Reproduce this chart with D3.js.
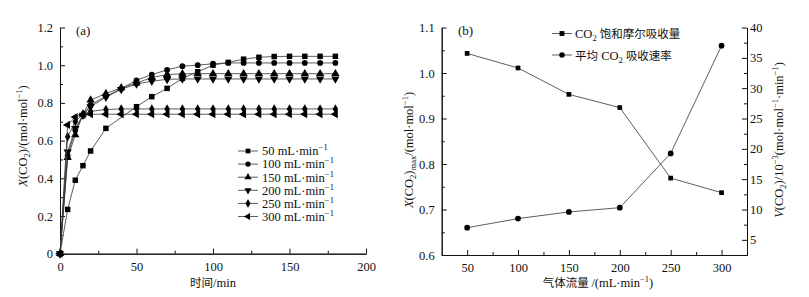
<!DOCTYPE html>
<html>
<head>
<meta charset="utf-8">
<script src="https://cdn.jsdelivr.net/npm/d3@7"></script>
<style>
  body { margin: 0; background: #fff; }
  text { font-family: "Liberation Serif", "Times New Roman", serif; fill: #111; }
  .cn { font-family: "Noto Sans CJK SC", sans-serif; }
</style>
</head>
<body>
<div id="chart"></div>
<script>
// panel (a): time course, X(CO2) for each flow rate
var times = [0, 5, 10, 15, 20, 30, 40, 50, 60, 70, 80, 90, 100, 110, 120, 130, 140, 150, 160, 170, 180];
var flowNames = ["50", "100", "150", "200", "250", "300"];
var x50  = [0, 0.235, 0.39, 0.467, 0.545, 0.665, null, 0.78, 0.833, 0.877, 0.93, 0.965, 1.0, 1.015, 1.032, 1.042, 1.046, 1.047, 1.047, 1.047, 1.047];
var x100 = [0, 0.52, 0.655, 0.735, 0.79, 0.835, 0.875, 0.92, 0.95, 0.975, 0.995, 1.0, 1.008, 1.012, 1.012, 1.012, 1.012, 1.012, 1.012, 1.012, 1.012];
var x150 = [0, 0.51, 0.63, 0.74, 0.815, 0.85, 0.88, 0.905, 0.935, 0.95, 0.955, 0.955, 0.955, 0.955, 0.955, 0.955, 0.955, 0.955, 0.955, 0.955, 0.955];
var x200 = [0, 0.54, 0.665, 0.735, 0.78, 0.83, 0.872, 0.9, 0.915, 0.925, 0.927, 0.927, 0.927, 0.927, 0.927, 0.927, 0.927, 0.927, 0.927, 0.927, 0.927];
var x250 = [0, 0.62, 0.70, 0.74, 0.755, 0.765, 0.768, 0.768, 0.768, 0.768, 0.768, 0.768, 0.768, 0.768, 0.768, 0.768, 0.768, 0.768, 0.768, 0.768, 0.768];
var x300 = [0, 0.683, 0.725, 0.737, 0.74, 0.74, 0.74, 0.74, 0.74, 0.74, 0.74, 0.74, 0.74, 0.74, 0.74, 0.74, 0.74, 0.74, 0.74, 0.74, 0.74];
var seriesA = [x50, x100, x150, x200, x250, x300];

// panel (b): flow rate vs saturation and mean rate
var flows = [50, 100, 150, 200, 250, 300];
var xmax = [1.043, 1.011, 0.953, 0.924, 0.769, 0.737];
var rate = [7.0, 8.5, 9.6, 10.3, 19.25, 37.0];

var xTicksA = [0, 50, 100, 150, 200];
var yTicksA = [0, 0.2, 0.4, 0.6, 0.8, 1.0, 1.2];
var xTicksB = [50, 100, 150, 200, 250, 300];
var yTicksB = [0.6, 0.7, 0.8, 0.9, 1.0, 1.1];
var rTicksB = [5, 10, 15, 20, 25, 30, 35, 40];

var W = 809, H = 297;
var svg = d3.select("#chart").append("svg")
  .attr("width", W).attr("height", H);

// symbols: square, circle, up, down, diamond, left
var shapes = [
  {t: d3.symbolSquare, s: 30, r: 0},
  {t: d3.symbolCircle, s: 26, r: 0},
  {t: d3.symbolTriangle, s: 30, r: 0},
  {t: d3.symbolTriangle, s: 30, r: 180},
  {t: d3.symbolDiamond, s: 26, r: 0},
  {t: d3.symbolTriangle, s: 30, r: -90}
];

function drawMarker(g, sh, cx, cy, size) {
  g.append("path")
    .attr("d", d3.symbol().type(sh.t).size(size || sh.s)())
    .attr("transform", "translate(" + cx + "," + cy + ") rotate(" + sh.r + ")")
    .attr("fill", "#000");
}

function minorOf(arr) {
  var m = [];
  for (var i = 0; i < arr.length - 1; i++) m.push((arr[i] + arr[i + 1]) / 2);
  return m;
}

function styleAxis(g) {
  g.selectAll("path, line").attr("stroke", "#111").attr("stroke-width", 1);
  g.selectAll("text").attr("font-size", 12.5).attr("fill", "#111")
    .style("font-family", "'Liberation Serif', serif");
}

// ---------- panel (a) ----------
var xa = d3.scaleLinear().domain([0, 200]).range([60, 366]);
var ya = d3.scaleLinear().domain([0, 1.2]).range([253.7, 27.5]);

var ga = svg.append("g");

ga.append("g").attr("transform", "translate(0,253.7)")
  .call(d3.axisBottom(xa).tickValues(xTicksA).tickSizeInner(-5).tickSizeOuter(0).tickPadding(8).tickFormat(d3.format("d")))
  .call(styleAxis);
ga.append("g").attr("transform", "translate(0,253.7)")
  .call(d3.axisBottom(xa).tickValues(minorOf(xTicksA)).tickSizeInner(-3).tickSizeOuter(0).tickFormat(""))
  .call(styleAxis);
ga.append("g").attr("transform", "translate(60,0)")
  .call(d3.axisLeft(ya).tickValues(yTicksA).tickSizeInner(-5).tickSizeOuter(0).tickPadding(7)
    .tickFormat(function(d) { return d === 0 ? "0" : d3.format(".1f")(d); }))
  .call(styleAxis);
ga.append("g").attr("transform", "translate(60,0)")
  .call(d3.axisLeft(ya).tickValues(minorOf(yTicksA)).tickSizeInner(-3).tickSizeOuter(0).tickFormat(""))
  .call(styleAxis);

var lineA = d3.line()
  .x(function(d) { return xa(d[0]); })
  .y(function(d) { return ya(d[1]); });

seriesA.forEach(function(vals, i) {
  var pts = times.map(function(t, j) { return [t, vals[j]]; }).filter(function(p) { return p[1] !== null; });
  ga.append("path").datum(pts)
    .attr("d", lineA).attr("fill", "none")
    .attr("stroke", "#333").attr("stroke-width", 0.8);
  pts.forEach(function(p) { drawMarker(ga, shapes[i], xa(p[0]), ya(p[1])); });
});

ga.append("text").attr("x", 76).attr("y", 35).attr("font-size", 13).text("(a)");

// legend (a)
flowNames.forEach(function(n, i) {
  var yy = 151 + i * 13.1;
  ga.append("line").attr("x1", 238).attr("x2", 258).attr("y1", yy).attr("y2", yy)
    .attr("stroke", "#333").attr("stroke-width", 0.8);
  drawMarker(ga, shapes[i], 248, yy, 22);
  var t = ga.append("text").attr("x", 262).attr("y", yy + 4.3).attr("font-size", 12.5);
  t.append("tspan").text(n + " mL\u00b7min");
  t.append("tspan").attr("dy", -5).attr("font-size", 8.5).text("\u22121");
});

// axis titles (a)
var ta = ga.append("text").attr("transform", "translate(27,136) rotate(-90)")
  .attr("text-anchor", "middle").attr("font-size", 12.5);
ta.append("tspan").attr("font-style", "italic").text("X");
ta.append("tspan").text("(CO");
ta.append("tspan").attr("dy", 3).attr("font-size", 8.5).text("2");
ta.append("tspan").attr("dy", -3).text(")/(mol\u00b7mol");
ta.append("tspan").attr("dy", -5).attr("font-size", 8.5).text("\u22121");
ta.append("tspan").attr("dy", 5).text(")");

var xa_t = ga.append("text").attr("x", 213).attr("y", 287).attr("text-anchor", "middle").attr("font-size", 12.5);
xa_t.append("tspan").attr("class", "cn").attr("font-size", 11.5).text("时间");
xa_t.append("tspan").text("/min");

// ---------- panel (b) ----------
var xb = d3.scaleLinear().domain([25, 325]).range([441.7, 747]);
var yb = d3.scaleLinear().domain([0.6, 1.1]).range([255, 27.5]);
var rb = d3.scaleLinear().domain([2.5, 40]).range([255, 27.5]);

var gb = svg.append("g");

gb.append("g").attr("transform", "translate(0,255)")
  .call(d3.axisBottom(xb).tickValues(xTicksB).tickSizeInner(-5).tickSizeOuter(0).tickPadding(8))
  .call(styleAxis);
gb.append("g").attr("transform", "translate(0,255)")
  .call(d3.axisBottom(xb).tickValues(minorOf(xTicksB)).tickSizeInner(-3).tickSizeOuter(0).tickFormat(""))
  .call(styleAxis);
gb.append("g").attr("transform", "translate(441.7,0)")
  .call(d3.axisLeft(yb).tickValues(yTicksB).tickSizeInner(-5).tickSizeOuter(0).tickPadding(7).tickFormat(d3.format(".1f")))
  .call(styleAxis);
gb.append("g").attr("transform", "translate(441.7,0)")
  .call(d3.axisLeft(yb).tickValues(minorOf(yTicksB)).tickSizeInner(-3).tickSizeOuter(0).tickFormat(""))
  .call(styleAxis);
gb.append("g").attr("transform", "translate(747,0)")
  .call(d3.axisRight(rb).tickValues(rTicksB).tickSizeInner(-5).tickSizeOuter(0).tickPadding(3))
  .call(styleAxis);
gb.append("g").attr("transform", "translate(747,0)")
  .call(d3.axisRight(rb).tickValues(minorOf(rTicksB)).tickSizeInner(-3).tickSizeOuter(0).tickFormat(""))
  .call(styleAxis);

var lineB1 = d3.line().x(function(d, i) { return xb(flows[i]); }).y(function(d) { return yb(d); });
var lineB2 = d3.line().x(function(d, i) { return xb(flows[i]); }).y(function(d) { return rb(d); });

gb.append("path").datum(xmax).attr("d", lineB1).attr("fill", "none").attr("stroke", "#333").attr("stroke-width", 0.8);
gb.append("path").datum(rate).attr("d", lineB2).attr("fill", "none").attr("stroke", "#333").attr("stroke-width", 0.8);
xmax.forEach(function(v, i) { drawMarker(gb, shapes[0], xb(flows[i]), yb(v), 22); });
rate.forEach(function(v, i) { drawMarker(gb, shapes[1], xb(flows[i]), rb(v), 26); });

gb.append("text").attr("x", 458).attr("y", 35).attr("font-size", 13).text("(b)");

// legend (b)
var legB = [
  {sh: shapes[0], y: 33.5, parts: [["CO", ""], ["2", "sub"], [" ", ""], ["饱和摩尔吸收量", "cn"]]},
  {sh: shapes[1], y: 55, parts: [["平均", "cn"], [" CO", ""], ["2", "sub"], [" ", ""], ["吸收速率", "cn"]]}
];
legB.forEach(function(L) {
  gb.append("line").attr("x1", 552).attr("x2", 572).attr("y1", L.y).attr("y2", L.y)
    .attr("stroke", "#333").attr("stroke-width", 0.8);
  drawMarker(gb, L.sh, 562, L.y, 24);
  var t = gb.append("text").attr("x", 575).attr("y", L.y + 4.5).attr("font-size", 12.5);
  var sub = false;
  L.parts.forEach(function(p) {
    var s = t.append("tspan").text(p[0]);
    if (p[1] === "cn") s.attr("class", "cn").attr("font-size", 11.5);
    if (p[1] === "sub") { s.attr("dy", 3).attr("font-size", 8.5); sub = true; }
    else if (sub) { s.attr("dy", -3); sub = false; }
  });
});

// axis titles (b)
var tl = gb.append("text").attr("transform", "translate(413,150) rotate(-90)")
  .attr("text-anchor", "middle").attr("font-size", 12.5);
tl.append("tspan").attr("font-style", "italic").text("X");
tl.append("tspan").text("(CO");
tl.append("tspan").attr("dy", 3).attr("font-size", 8.5).text("2");
tl.append("tspan").attr("dy", -3).text(")");
tl.append("tspan").attr("dy", 3).attr("font-size", 8.5).text("max");
tl.append("tspan").attr("dy", -3).text("/(mol\u00b7mol");
tl.append("tspan").attr("dy", -5).attr("font-size", 8.5).text("\u22121");
tl.append("tspan").attr("dy", 5).text(")");

var tr = gb.append("text").attr("transform", "translate(783,140) rotate(-90)")
  .attr("text-anchor", "middle").attr("font-size", 12.5);
tr.append("tspan").attr("font-style", "italic").text("V");
tr.append("tspan").text("(CO");
tr.append("tspan").attr("dy", 3).attr("font-size", 8.5).text("2");
tr.append("tspan").attr("dy", -3).text(")/10");
tr.append("tspan").attr("dy", -5).attr("font-size", 8.5).text("\u22123");
tr.append("tspan").attr("dy", 5).text("(mol\u00b7mol");
tr.append("tspan").attr("dy", -5).attr("font-size", 8.5).text("\u22121");
tr.append("tspan").attr("dy", 5).text("\u00b7min");
tr.append("tspan").attr("dy", -5).attr("font-size", 8.5).text("\u22121");
tr.append("tspan").attr("dy", 5).text(")");

var xb_t = gb.append("text").attr("x", 598).attr("y", 287).attr("text-anchor", "middle").attr("font-size", 12.5);
xb_t.append("tspan").attr("class", "cn").attr("font-size", 11.5).text("气体流量 ");
xb_t.append("tspan").text("/(mL\u00b7min");
xb_t.append("tspan").attr("dy", -5).attr("font-size", 8.5).text("\u22121");
xb_t.append("tspan").attr("dy", 5).text(")");
</script>
</body>
</html>
